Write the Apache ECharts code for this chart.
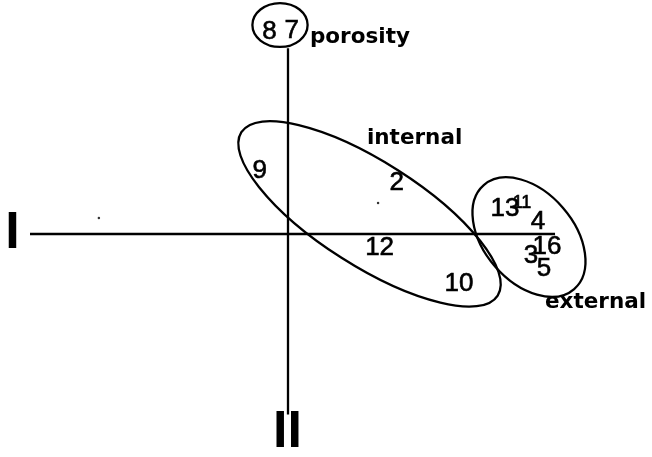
<!DOCTYPE html>
<html>
<head>
<meta charset="utf-8">
<script src="https://cdn.jsdelivr.net/npm/echarts@6/dist/echarts.min.js"></script>
<style>
  html, body { margin: 0; padding: 0; background: #fff; }
  #chart { width: 652px; height: 457px; }
</style>
</head>
<body>
<div id="chart"></div>
<script>
// variable numbers and their loadings on factor I (x) and factor II (y)
var pointNames = ['8', '7', '9', '2', '12', '10', '13', '11', '4', '16', '3', '5'];
var factorI    = [-0.072, 0.014, -0.110, 0.421, 0.355, 0.663, 0.841, 0.907, 0.969, 1.004, 0.942, 0.992];
var factorII   = [0.785, 0.787, 0.244, 0.198, -0.052, -0.194, 0.097, 0.120, 0.047, -0.050, -0.085, -0.136];
var smallNames = ['11'];

// groups: label anchor and enclosing ellipse (centre, semi axes, tilt in degrees)
var groupNames   = ['porosity', 'internal', 'external'];
var groupLabelX  = [0.085, 0.306, 0.996];
var groupLabelY  = [0.760, 0.372, -0.267];
var ellipseX     = [-0.031, 0.316, 0.934];
var ellipseY     = [0.810, 0.078, -0.012];
var ellipseA     = [0.107, 0.589, 0.267];
var ellipseB     = [0.085, 0.202, 0.174];
var ellipseAngle = [0, -32.5, -49];

// axis lines and their names
var axisIX  = [-1.0, 1.035];
var axisIIY = [0.72, -0.70];
var axisNames = ['I', 'II'];
var axisNameX = [-1.068, -0.002];
var axisNameY = [0.002, -0.769];

// stray specks on the page
var speckX = [-0.733, 0.349];
var speckY = [0.062, 0.120];

var chart = echarts.init(document.getElementById('chart'));

var pointData = pointNames.map(function (n, i) {
    var item = { name: n, value: [factorI[i], factorII[i]] };
    if (smallNames.indexOf(n) >= 0) item.label = { fontSize: 18 };
    return item;
});
var groupData = groupNames.map(function (n, i) {
    return { name: n, value: [groupLabelX[i], groupLabelY[i]] };
});
var ellipseData = groupNames.map(function (n, i) {
    return [ellipseX[i], ellipseY[i], ellipseA[i], ellipseB[i], ellipseAngle[i]];
});
var axisNameData = axisNames.map(function (n, i) {
    return { name: n, value: [axisNameX[i], axisNameY[i]] };
});

function textSeries(data, font) {
    return {
        type: 'scatter',
        data: data,
        symbolSize: 0,
        itemStyle: { color: '#000', opacity: 1 },
        label: Object.assign({
            show: true,
            position: [0, 0],
            formatter: '{b}',
            color: '#000',
            opacity: 1,
            textBorderWidth: 0,
            align: 'center',
            verticalAlign: 'middle'
        }, font)
    };
}

var option = {
    backgroundColor: '#fff',
    animation: false,
    grid: { left: 0, right: 0, top: 0, bottom: 0 },
    xAxis: { type: 'value', min: -288 / 258, max: 364 / 258, show: false },
    yAxis: { type: 'value', min: -223 / 258, max: 234 / 258, show: false },
    series: [
        {
            type: 'line',
            data: [[axisIX[0], 0], [axisIX[1], 0]],
            symbol: 'none',
            lineStyle: { color: '#000', width: 2.6 }
        },
        {
            type: 'line',
            data: [[0, axisIIY[0]], [0, axisIIY[1]]],
            symbol: 'none',
            lineStyle: { color: '#000', width: 2.3 }
        },
        {
            type: 'custom',
            clip: false,
            data: ellipseData,
            renderItem: function (params, api) {
                var c = api.coord([api.value(0), api.value(1)]);
                var sz = api.size([api.value(2), api.value(3)]);
                return {
                    type: 'ellipse',
                    x: c[0],
                    y: c[1],
                    rotation: api.value(4) * Math.PI / 180,
                    shape: { cx: 0, cy: 0, rx: sz[0], ry: sz[1] },
                    style: { fill: null, stroke: '#000', lineWidth: 2.3 }
                };
            }
        },
        textSeries(pointData, {
            fontFamily: 'Liberation Sans', fontSize: 26,
            textBorderColor: '#000', textBorderWidth: 0.6
        }),
        textSeries(groupData, { fontFamily: 'DejaVu Sans', fontWeight: 'bold', fontSize: 21.5, align: 'left' }),
        textSeries(axisNameData, { fontFamily: 'Liberation Sans', fontWeight: 'bold', fontSize: 52 }),
        {
            type: 'scatter',
            data: speckX.map(function (x, i) { return [x, speckY[i]]; }),
            symbolSize: 2.5,
            itemStyle: { color: '#000' }
        }
    ]
};

chart.setOption(option);
</script>
</body>
</html>
